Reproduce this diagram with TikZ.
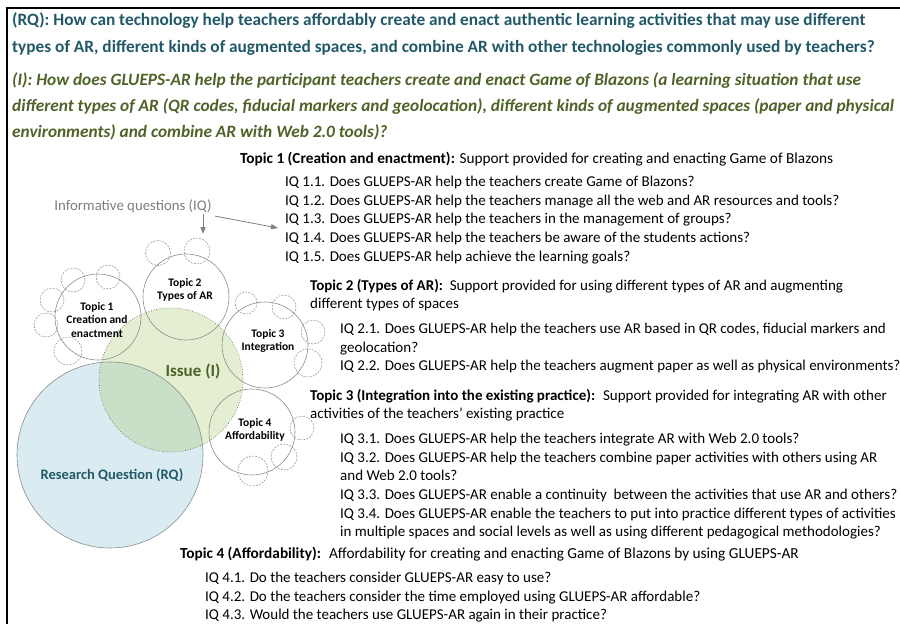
\documentclass[tikz,border=0pt]{standalone}
\usepackage{fontspec}
\setmainfont{Carlito}
\usetikzlibrary{arrows.meta}

\definecolor{rqteal}{HTML}{215968}
\definecolor{issgreen}{HTML}{4F6228}
\definecolor{rqfill}{HTML}{DAECF2}
\definecolor{issfill}{HTML}{E4EFD2}
\definecolor{bothfill}{HTML}{C9DFC8}
\definecolor{ringgray}{HTML}{8C8C8C}
\definecolor{iqgray}{HTML}{7F7F7F}

\tikzset{
  topic/.style={circle, draw=ringgray, line width=0.6pt, minimum size=86pt, inner sep=0pt},
  topiclabel/.style={align=center, inner sep=0pt, font=\fontsize{11.5}{13.5}\selectfont\bfseries},
  subring/.style={circle, draw=ringgray, line width=0.5pt, dash pattern=on 2pt off 1.2pt, inner sep=0pt},
  block/.style={anchor=north west, inner sep=0pt, align=left, font=\fontsize{15}{18.6}\selectfont},
  headline/.style={anchor=north west, inner sep=0pt, align=left},
  iqarrow/.style={draw=iqgray, line width=0.8pt, -{Triangle[length=7pt,width=5pt]}}
}

\begin{document}
\begin{tikzpicture}[x=1pt, y=-1pt]
\useasboundingbox (0,0) rectangle (900,624);
\clip (0,0) rectangle (900,624);
\fill[white] (0,0) rectangle (900,624);
\draw[line width=2pt] (7,8) rectangle (920,640);

\node[headline, text=rqteal, font=\fontsize{17.3}{27}\selectfont\bfseries] (rqtext) at (12,12) {(RQ): How can technology help teachers affordably create and enact authentic learning activities that may use different\\types of AR, different kinds of augmented spaces, and combine AR with other technologies commonly used by teachers?};
\node[headline, text=issgreen, font=\fontsize{17.3}{26}\selectfont\bfseries\itshape] (isstext) at (12,72) {(I): How does GLUEPS-AR help the participant teachers create and enact Game of Blazons (a learning situation that use\\different types of AR (QR codes, fiducial markers and geolocation), different kinds of augmented spaces (paper and physical\\environments) and combine AR with Web 2.0 tools)?};

\node[block, font=\fontsize{15.3}{18.6}\selectfont] (topic1) at (240,152) {\textbf{Topic 1 (Creation and enactment):} Support provided for creating and enacting Game of Blazons};
\node[block] (iq1) at (285,176) {IQ 1.1. Does GLUEPS-AR help the teachers create Game of Blazons?\\IQ 1.2. Does GLUEPS-AR help the teachers manage all the web and AR resources and tools?\\IQ 1.3. Does GLUEPS-AR help the teachers in the management of groups?\\IQ 1.4. Does GLUEPS-AR help the teachers be aware of the students actions?\\IQ 1.5. Does GLUEPS-AR help achieve the learning goals?};
\node[block] (topic2) at (310,279) {\textbf{Topic 2 (Types of AR):}~ Support provided for using different types of AR and augmenting\\different types of spaces};
\node[block] (iq2) at (340,323) {IQ 2.1. Does GLUEPS-AR help the teachers use AR based in QR codes, fiducial markers and\\geolocation?\\IQ 2.2. Does GLUEPS-AR help the teachers augment paper as well as physical environments?};
\node[block] (topic3) at (310,389) {\textbf{Topic 3 (Integration into the existing practice):}~ Support provided for integrating AR with other\\activities of the teachers' existing practice};
\node[block] (iq3) at (340,433) {IQ 3.1. Does GLUEPS-AR help the teachers integrate AR with Web 2.0 tools?\\IQ 3.2. Does GLUEPS-AR help the teachers combine paper activities with others using AR\\and Web 2.0 tools?\\IQ 3.3. Does GLUEPS-AR enable a continuity~ between the activities that use AR and others?\\IQ 3.4. Does GLUEPS-AR enable the teachers to put into practice different types of activities\\in multiple spaces and social levels as well as using different pedagogical methodologies?};
\node[block, font=\fontsize{15.3}{18.6}\selectfont] (topic4) at (180,547) {\textbf{Topic 4 (Affordability):}~ Affordability for creating and enacting Game of Blazons by using GLUEPS-AR};
\node[block] (iq4) at (205,572) {IQ 4.1. Do the teachers consider GLUEPS-AR easy to use?\\IQ 4.2. Do the teachers consider the time employed using GLUEPS-AR affordable?\\IQ 4.3. Would the teachers use GLUEPS-AR again in their practice?};

\node[circle, minimum size=186pt, inner sep=0pt, fill=rqfill] (rq) at (110,455) {};
\node[circle, minimum size=144pt, inner sep=0pt, fill=issfill] (iss) at (171,380) {};
\begin{scope}
\clip (rq.center) circle [radius=93pt];
\fill[bothfill] (iss.center) circle [radius=72pt];
\end{scope}
\draw[ringgray, line width=0.6pt] (rq.center) circle [radius=93pt];
\draw[black!70, line width=0.6pt, dotted] (iss.center) circle [radius=72pt];
\node[text=rqteal, font=\fontsize{14.5}{17}\selectfont\bfseries] (rqlabel) at (112,475) {Research Question (RQ)};
\node[text=issgreen, font=\fontsize{17}{20}\selectfont\bfseries] (isslabel) at (193,371) {Issue (I)};

\node[topic] (t1) at (98,317) {};
\node[topic] (t2) at (186,297) {};
\node[topic] (t3) at (265,345) {};
\node[topic] (t4) at (252,432) {};
\node[topiclabel] (t1text) at (97,320) {Topic 1\\Creation and\\enactment};
\node[topiclabel] (t2text) at (185,290) {Topic 2\\Types of AR};
\node[topiclabel] (t3text) at (268,341) {Topic 3\\Integration};
\node[topiclabel] (t4text) at (255,430) {Topic 4\\Affordability};

\node[subring, minimum size=25pt] (s1) at (158,253) {};
\node[subring, minimum size=26pt] (s2) at (197,251) {};
\node[subring, minimum size=24pt] (s3) at (73,280) {};
\node[subring, minimum size=24pt] (s4) at (108,277) {};
\node[subring, minimum size=24pt] (s5) at (52,300) {};
\node[subring, minimum size=24pt] (s6) at (46,325) {};
\node[subring, minimum size=28pt] (s7) at (68,351) {};
\node[subring, minimum size=22pt] (s8) at (246,303) {};
\node[subring, minimum size=24pt] (s9) at (284,307) {};
\node[subring, minimum size=24pt] (s10) at (313,332) {};
\node[subring, minimum size=28pt] (s11) at (308,363) {};
\node[subring, minimum size=24pt] (s12) at (302,428) {};
\node[subring, minimum size=26pt] (s13) at (284,457) {};
\node[subring, minimum size=30pt] (s14) at (253,471) {};

\node[text=iqgray, font=\fontsize{14.8}{17}\selectfont] (iq) at (133,206) {Informative questions (IQ)};
\coordinate (iqfoot) at (203,214);
\coordinate (iqdown) at (203,234);
\coordinate (iqtip) at (278,228);
\draw[iqarrow] (iq.south east) -- (iqtip);
\draw[iqarrow] (iqfoot) -- (iqdown);
\end{tikzpicture}
\end{document}
